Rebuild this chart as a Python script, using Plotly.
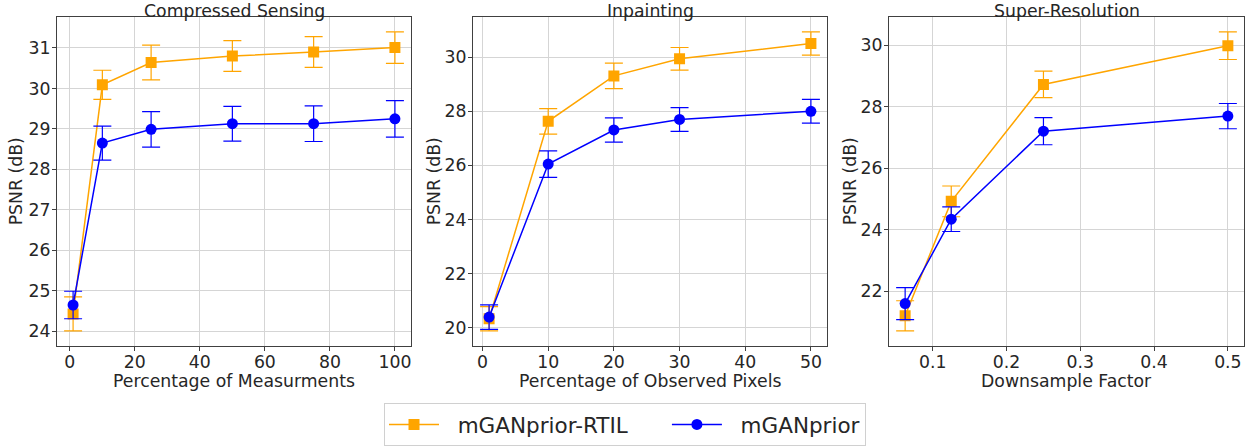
import plotly.graph_objects as go

# ---- data ----
cs_x = [1, 10, 25, 50, 75, 100]
cs_rtil = [24.43, 30.09, 30.64, 30.80, 30.90, 31.01]
cs_rtil_err = [0.42, 0.36, 0.43, 0.38, 0.38, 0.39]
cs_mgan = [24.65, 28.65, 28.99, 29.13, 29.13, 29.25]
cs_mgan_err = [0.34, 0.42, 0.44, 0.43, 0.44, 0.45]

ip_x = [1, 10, 20, 30, 50]
ip_rtil = [20.33, 27.63, 29.31, 29.94, 30.51]
ip_rtil_err = [0.45, 0.47, 0.47, 0.42, 0.43]
ip_mgan = [20.39, 26.05, 27.31, 27.70, 28.00]
ip_mgan_err = [0.45, 0.49, 0.45, 0.44, 0.44]

sr_x = [0.0625, 0.125, 0.25, 0.5]
sr_rtil = [21.20, 24.92, 28.72, 29.98]
sr_rtil_err = [0.49, 0.50, 0.43, 0.45]
sr_mgan = [21.60, 24.34, 27.20, 27.69]
sr_mgan_err = [0.52, 0.40, 0.44, 0.41]

titles = ["Compressed Sensing", "Inpainting", "Super-Resolution"]
xlabels = ["Percentage of Measurments", "Percentage of Observed Pixels", "Downsample Factor"]
ylabel = "PSNR (dB)"
names = ["mGANprior-RTIL", "mGANprior"]

ORANGE = "#FFA500"
BLUE = "#0000FF"
FONT = "DejaVu Sans"
FS = 17.3
TXT = "#262626"
W, H = 1250, 446

panels = [
    (cs_x, cs_rtil, cs_rtil_err, cs_mgan, cs_mgan_err),
    (ip_x, ip_rtil, ip_rtil_err, ip_mgan, ip_mgan_err),
    (sr_x, sr_rtil, sr_rtil_err, sr_mgan, sr_mgan_err),
]

# pixel layout of each axes box (left, right)
boxes = [(57, 411), (473, 827), (889, 1244)]
ytitle_px = [16, 434, 850]
top_px, bot_px = 17, 349
xtick_vals = [[0, 20, 40, 60, 80, 100], [0, 10, 20, 30, 40, 50], [0.1, 0.2, 0.3, 0.4, 0.5]]
xtick_text = [[str(v) for v in xtick_vals[0]], [str(v) for v in xtick_vals[1]],
              [str(v) for v in xtick_vals[2]]]
ytick_vals = [[24, 25, 26, 27, 28, 29, 30, 31], [20, 22, 24, 26, 28, 30], [22, 24, 26, 28, 30]]

fig = go.Figure()

def margin_range(vals, frac=0.05):
    lo, hi = min(vals), max(vals)
    d = (hi - lo) * frac
    return [lo - d, hi + d]

NB = "\u00a0"
legend_names = [NB * 2 + names[0] + NB * 5, NB * 2 + names[1]]

for i, (x, r, re, m, me) in enumerate(panels):
    xa = "x" if i == 0 else f"x{i+1}"
    ya = "y" if i == 0 else f"y{i+1}"
    fig.add_trace(go.Scatter(
        x=x, y=r, mode="lines+markers", name=legend_names[0],
        line=dict(color=ORANGE, width=1.5),
        marker=dict(symbol="square", size=11, color=ORANGE),
        error_y=dict(type="data", array=re, visible=True, color=ORANGE, thickness=1.2, width=9),
        xaxis=xa, yaxis=ya, showlegend=(i == 0), legendgroup="a"))
    fig.add_trace(go.Scatter(
        x=x, y=m, mode="lines+markers", name=legend_names[1],
        line=dict(color=BLUE, width=1.5),
        marker=dict(symbol="circle", size=11, color=BLUE),
        error_y=dict(type="data", array=me, visible=True, color=BLUE, thickness=1.2, width=9),
        xaxis=xa, yaxis=ya, showlegend=(i == 0), legendgroup="b"))

layout = dict(
    width=W, height=H,
    margin=dict(l=0, r=0, t=0, b=0),
    paper_bgcolor="white", plot_bgcolor="white",
    font=dict(family=FONT, size=FS, color=TXT),
    legend=dict(orientation="h", x=0.5, xanchor="center", y=1 - 407 / H, yanchor="top",
                bordercolor="#d0d0d0", borderwidth=1, bgcolor="white",
                font=dict(size=21.5, family=FONT, color=TXT), itemwidth=50,
                tracegroupgap=0),
    annotations=[],
)

for i in range(3):
    l, r = boxes[i]
    x, rr, re, m, me = panels[i]
    xkey = "xaxis" if i == 0 else f"xaxis{i+1}"
    ykey = "yaxis" if i == 0 else f"yaxis{i+1}"
    yall = [a - b for a, b in zip(rr, re)] + [a + b for a, b in zip(rr, re)] + \
           [a - b for a, b in zip(m, me)] + [a + b for a, b in zip(m, me)]
    layout[xkey] = dict(
        domain=[l / W, r / W], anchor="y" if i == 0 else f"y{i+1}",
        range=margin_range(x), tickvals=xtick_vals[i], ticktext=xtick_text[i],
        showgrid=True, gridcolor="#d5d5d5", gridwidth=1,
        showline=True, linecolor="#404040", linewidth=1, mirror=True,
        ticks="outside", ticklen=4, tickcolor="#404040", ticklabelstandoff=-4,
        tickfont=dict(size=FS, family=FONT, color=TXT),
        zeroline=False,
    )
    layout[ykey] = dict(
        domain=[1 - bot_px / H, 1 - top_px / H], anchor="x" if i == 0 else f"x{i+1}",
        range=margin_range(yall), tickvals=ytick_vals[i],
        showgrid=True, gridcolor="#d5d5d5", gridwidth=1,
        showline=True, linecolor="#404040", linewidth=1, mirror=True,
        ticks="outside", ticklen=4, tickcolor="#404040", ticklabelstandoff=-2,
        tickfont=dict(size=FS, family=FONT, color=TXT),
        zeroline=False,
    )
    cx = (l + r) / 2 / W
    layout["annotations"].append(dict(
        text=titles[i], x=cx, y=1.0, xref="paper", yref="paper",
        xanchor="center", yanchor="top", showarrow=False, borderpad=0,
        font=dict(size=FS, family=FONT, color=TXT)))
    layout["annotations"].append(dict(
        text=xlabels[i], x=cx, y=1 - 384 / H, xref="paper", yref="paper",
        xanchor="center", yanchor="middle", showarrow=False, borderpad=0,
        font=dict(size=FS, family=FONT, color=TXT)))
    layout["annotations"].append(dict(
        text=ylabel, x=ytitle_px[i] / W, y=1 - (top_px + bot_px) / 2 / H,
        xref="paper", yref="paper", textangle=-90,
        xanchor="center", yanchor="middle", showarrow=False, borderpad=0,
        font=dict(size=FS, family=FONT, color=TXT)))

fig.update_layout(**layout)
fig.write_html("out.html")
